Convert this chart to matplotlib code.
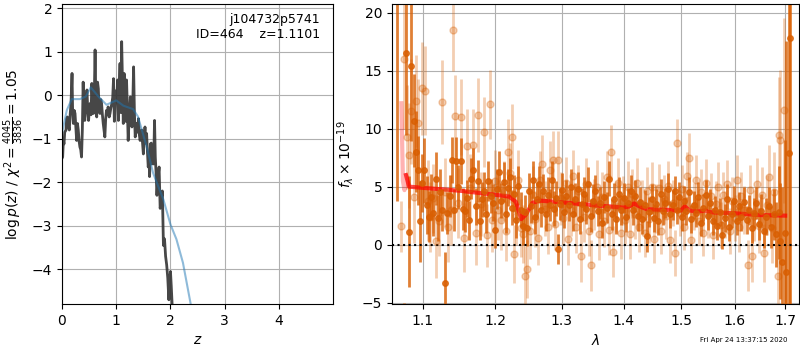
import matplotlib
matplotlib.use("Agg")
import matplotlib.pyplot as plt
from matplotlib.ticker import NullLocator

# ---- left panel: log p(z) ----
PZ_Z = [0.000, 0.012, 0.025, 0.037, 0.050, 0.074, 0.085, 0.098, 0.115, 0.135,
        0.150, 0.166, 0.185, 0.195, 0.210, 0.225, 0.240, 0.255, 0.270, 0.285,
        0.300, 0.315, 0.330, 0.345, 0.360, 0.375, 0.390, 0.405, 0.420, 0.440,
        0.460, 0.475, 0.490, 0.505, 0.520, 0.535, 0.550, 0.565, 0.580, 0.595,
        0.610, 0.625, 0.640, 0.655, 0.670, 0.685, 0.700, 0.715, 0.730, 0.745,
        0.760, 0.775, 0.790, 0.805, 0.820, 0.835, 0.850, 0.870, 0.885, 0.900,
        0.920, 0.935, 0.950, 0.965, 0.980, 0.995, 1.010, 1.025, 1.040, 1.055,
        1.070, 1.085, 1.100, 1.115, 1.130, 1.145, 1.160, 1.175, 1.190, 1.205,
        1.220, 1.240, 1.260, 1.275, 1.290, 1.305, 1.320, 1.335, 1.350, 1.365,
        1.380, 1.395, 1.410, 1.425, 1.440, 1.455, 1.470, 1.485, 1.500, 1.515,
        1.530, 1.545, 1.560, 1.575, 1.590, 1.605, 1.615, 1.630, 1.645, 1.660,
        1.675, 1.690, 1.706, 1.720, 1.735, 1.750, 1.770, 1.790, 1.810, 1.830,
        1.850, 1.870, 1.890, 1.910, 1.930, 1.950, 1.970, 1.985, 2.000, 2.015,
        2.030, 2.045]
PZ_LOGP = [-1.45, -1.42, -1.05, -1.12, -0.85, -0.80, -0.55, -0.50, -0.70, -0.80,
           -0.45, -0.19, 0.50, -0.30, -0.65, -0.35, -0.42, -0.75, -1.04, -0.65,
           -0.80, -1.05, -1.19, -1.25, -1.42, -0.80, 0.30, -0.45, -0.58, -0.20,
           0.12, -0.35, -0.58, -0.30, -0.19, -0.45, 0.27, -0.15, -0.42, -0.05,
           1.04, -0.20, -0.50, 0.30, 0.15, -0.35, -0.42, -0.10, -0.19, -0.45,
           -0.65, -0.80, -0.96, -0.55, -0.35, -0.45, -0.27, -0.50, -0.42, -0.30,
           -0.19, -0.05, 0.38, -0.60, -0.27, 0.10, -0.15, 0.35, -0.58, 0.20,
           0.73, -0.40, 1.23, 0.30, -0.65, 0.50, -0.04, -0.60, 0.35, -0.30,
           -1.04, -0.50, -0.04, -0.60, -0.73, -0.20, 0.65, -0.40, -0.96, -0.75,
           -0.65, -0.85, -0.54, -0.90, -1.04, -0.90, -0.80, -1.10, -1.35, -1.00,
           -0.73, -1.10, -0.88, -1.30, -1.65, -1.42, -1.87, -1.12, -1.10, -1.58,
           -1.20, -1.58, -0.58, -1.42, -1.80, -2.30, -1.90, -1.65, -2.60, -2.40,
           -2.20, -3.45, -3.30, -3.70, -3.90, -4.20, -4.70, -4.30, -4.05, -4.40,
           -4.80, -5.20]

PRIOR_Z = [0.00, 0.09, 0.18, 0.33, 0.44, 0.53, 0.67, 0.82, 1.00, 1.13,
           1.31, 1.40, 1.47, 1.56, 1.68, 1.87, 2.00, 2.11, 2.23, 2.37, 2.45]
PRIOR_LOGP = [-0.87, -0.34, -0.09, -0.09, -0.03, 0.18, -0.03, -0.22, -0.12, -0.24,
              -0.32, -0.49, -0.79, -1.18, -1.79, -2.40, -2.97, -3.31, -3.85, -4.78, -5.40]

Z_TICKS = [0, 1, 2, 3, 4]
LOGP_TICKS = [-4, -3, -2, -1, 0, 1, 2]

# ---- right panel: spectrum ----
G1_LAM = [1.067, 1.075, 1.078, 1.082, 1.085, 1.088, 1.091, 1.093, 1.096, 1.099,
          1.102, 1.105, 1.108, 1.111, 1.114, 1.117, 1.120, 1.123, 1.126, 1.130,
          1.133, 1.136, 1.139, 1.142, 1.145, 1.148, 1.151, 1.154, 1.157, 1.160,
          1.163, 1.166, 1.169, 1.172, 1.175, 1.178, 1.181, 1.184, 1.187, 1.190,
          1.194, 1.197, 1.200, 1.203, 1.206, 1.209, 1.212, 1.215, 1.218, 1.221,
          1.224, 1.227, 1.230, 1.234, 1.237, 1.240, 1.243, 1.246, 1.249, 1.252,
          1.255, 1.258, 1.262, 1.265, 1.268, 1.271, 1.275, 1.278, 1.281, 1.284,
          1.288, 1.291, 1.294, 1.297, 1.301, 1.304, 1.307, 1.311, 1.314, 1.318,
          1.321, 1.325, 1.328, 1.332, 1.335, 1.339, 1.342, 1.346, 1.350, 1.353,
          1.357, 1.361, 1.365, 1.368, 1.372, 1.376, 1.380, 1.384, 1.388, 1.392,
          1.396, 1.400, 1.404, 1.408, 1.412, 1.416, 1.420, 1.424, 1.428, 1.432,
          1.436, 1.440, 1.444, 1.448, 1.452, 1.456, 1.460, 1.464, 1.468, 1.472,
          1.476, 1.480, 1.485, 1.489, 1.493, 1.497, 1.501, 1.506, 1.510, 1.514,
          1.518, 1.523, 1.527, 1.531, 1.536, 1.540, 1.545, 1.549, 1.554, 1.558,
          1.563, 1.567, 1.572, 1.576, 1.581, 1.585, 1.590, 1.595, 1.599, 1.604,
          1.609, 1.613, 1.618, 1.623, 1.628, 1.633, 1.637, 1.642, 1.647, 1.652,
          1.657, 1.662, 1.667, 1.672, 1.677, 1.682, 1.687, 1.690, 1.694, 1.699,
          1.702, 1.707, 1.711]
G1_FLUX = [24.0, -8.0, 16.5, 1.1, 15.4, 10.7, 8.0, 6.4, 2.0, 5.3,
           6.4, 3.4, 2.4, 4.1, 2.7, 5.7, 2.3, 4.5, 3.0, -3.35,
           2.7, 4.2, 7.3, 3.0, 7.2, 5.0, 7.2, 3.1, 2.9, 4.0,
           2.1, 5.7, 6.4, 3.3, 5.5, 2.0, 3.9, 4.6, 2.6, 5.5,
           4.2, 3.6, 1.3, 4.8, 6.3, 3.8, 5.4, 2.6, 4.9, 5.8,
           3.2, 4.4, 2.1, 5.1, 3.0, 1.6, 2.8, 1.4, 4.6, 3.3,
           5.6, 2.4, 3.9, 5.2, 3.0, 4.6, 2.6, 4.3, 3.4, 5.6,
           3.1, 4.0, -0.4, 3.5, 4.7, 2.8, 4.2, 3.4, 5.0, 2.6,
           3.9, 4.8, 2.2, 3.5, 4.4, 3.1, 5.2, 2.5, 3.8, 4.6,
           2.9, 3.6, 1.9, 4.1, 3.2, 5.7, 2.6, 3.9, 2.2, 4.4,
           3.0, 4.0, 2.4, 3.6, 4.6, 3.0, 4.2, 2.5, 3.7, 2.2,
           3.4, 0.7, 2.8, 3.9, 2.3, 3.5, 2.0, 4.4, 2.9, 3.6,
           4.8, 2.6, 3.4, 4.6, 3.0, 4.1, 2.4, 3.8, 2.9, 4.5,
           2.2, 3.4, 2.7, 4.1, 1.9, 3.2, 4.3, 2.5, 3.6, 2.0,
           3.0, 1.6, 2.8, 0.8, 2.3, 3.9, 1.5, 2.6, 3.8, 2.0,
           3.3, 2.4, 3.7, 2.1, 3.0, 1.4, 2.7, 3.6, 1.8, 2.9,
           1.2, 2.4, 3.3, 1.5, 2.6, 0.9, 2.8, 0.3, -1.5, 1.0,
           -2.4, 7.9, 17.8]
G1_ERR = [20.2, 3.0, 7.0, 4.8, 6.5, 4.0, 3.5, 3.0, 3.5, 2.5,
          2.8, 2.5, 2.2, 2.0, 2.0, 2.3, 2.0, 2.0, 1.8, 2.7,
          1.8, 1.8, 2.0, 1.8, 2.1, 1.9, 2.0, 1.8, 1.8, 1.6,
          1.7, 1.8, 1.9, 1.6, 1.8, 1.6, 1.5, 1.7, 1.6, 1.7,
          1.5, 1.6, 1.6, 1.7, 1.8, 1.5, 1.7, 1.6, 1.6, 1.7,
          1.5, 1.6, 1.5, 1.7, 1.5, 1.6, 1.5, 1.5, 1.6, 1.4,
          1.6, 1.5, 1.5, 1.6, 1.5, 1.5, 1.4, 1.5, 1.4, 1.6,
          1.5, 1.5, 1.3, 1.4, 1.5, 1.4, 1.4, 1.4, 1.5, 1.4,
          1.4, 1.5, 1.3, 1.4, 1.4, 1.3, 1.5, 1.4, 1.4, 1.4,
          1.3, 1.4, 1.3, 1.4, 1.3, 1.5, 1.3, 1.4, 1.3, 1.4,
          1.3, 1.3, 1.3, 1.3, 1.4, 1.3, 1.4, 1.3, 1.3, 1.3,
          1.3, 1.3, 1.3, 1.3, 1.2, 1.3, 1.2, 1.3, 1.2, 1.3,
          1.4, 1.2, 1.3, 1.3, 1.2, 1.3, 1.2, 1.3, 1.2, 1.3,
          1.2, 1.2, 1.2, 1.3, 1.2, 1.2, 1.3, 1.2, 1.2, 1.2,
          1.2, 1.2, 1.2, 1.2, 1.2, 1.3, 1.2, 1.2, 1.3, 1.2,
          1.2, 1.2, 1.3, 1.2, 1.3, 1.3, 1.3, 1.4, 1.4, 1.5,
          1.5, 1.6, 1.7, 1.8, 2.2, 2.8, 4.0, 5.0, 6.5, 8.0,
          20.0, 30.0, 40.0]

G2_LAM = [1.072, 1.075, 1.079, 1.082, 1.085, 1.088, 1.091, 1.094, 1.099, 1.103,
          1.107, 1.110, 1.114, 1.118, 1.122, 1.126, 1.130, 1.134, 1.138, 1.141,
          1.144, 1.148, 1.152, 1.156, 1.160, 1.164, 1.168, 1.172, 1.176, 1.180,
          1.184, 1.188, 1.192, 1.196, 1.200, 1.204, 1.208, 1.212, 1.216, 1.219,
          1.222, 1.225, 1.227, 1.230, 1.234, 1.238, 1.241, 1.244, 1.247, 1.251,
          1.255, 1.259, 1.263, 1.267, 1.270, 1.274, 1.278, 1.282, 1.286, 1.290,
          1.294, 1.298, 1.302, 1.306, 1.310, 1.314, 1.318, 1.322, 1.326, 1.331,
          1.335, 1.339, 1.343, 1.347, 1.351, 1.356, 1.360, 1.364, 1.368, 1.372,
          1.375, 1.379, 1.383, 1.387, 1.391, 1.395, 1.399, 1.403, 1.407, 1.411,
          1.415, 1.419, 1.423, 1.427, 1.431, 1.436, 1.440, 1.444, 1.448, 1.452,
          1.456, 1.461, 1.465, 1.469, 1.473, 1.477, 1.481, 1.485, 1.489, 1.493,
          1.498, 1.502, 1.506, 1.511, 1.515, 1.519, 1.524, 1.528, 1.532, 1.537,
          1.541, 1.546, 1.550, 1.555, 1.559, 1.564, 1.568, 1.573, 1.577, 1.582,
          1.586, 1.591, 1.595, 1.600, 1.604, 1.609, 1.613, 1.618, 1.625, 1.629,
          1.634, 1.638, 1.643, 1.648, 1.653, 1.658, 1.663, 1.668, 1.673, 1.678,
          1.685, 1.688, 1.690, 1.697]
G2_FLUX = [1.6, 16.0, 9.3, 7.7, 11.5, 4.1, 12.4, 10.5, 13.5, 13.3,
           3.8, 2.4, 4.0, 0.3, 2.0, 12.3, 4.5, 1.5, 3.0, 18.5,
           11.1, 3.6, 11.0, 0.6, 8.5, 4.9, 8.6, 1.0, 11.2, 3.5,
           9.7, 0.8, 12.1, 2.1, 5.5, 3.0, 2.1, 4.6, 1.2, 8.0,
           6.2, 9.3, -0.8, 2.5, 5.6, 1.4, 0.9, -2.7, -2.1, 1.2,
           4.3, 2.2, 0.6, 5.6, 7.0, 3.1, 1.5, 6.4, 7.3, 1.8,
           7.3, 4.0, 2.3, 5.3, 0.5, 3.0, 5.9, 1.5, 4.6, -1.0,
           2.4, 5.2, 1.2, -1.8, 3.5, 5.0, 0.9, 4.1, 2.0, 5.8,
           1.3, 8.0, -0.6, 3.3, 5.3, 1.0, 3.8, 2.1, 5.0, 0.9,
           4.4, 2.6, 5.3, 1.5, 3.5, 1.0, 4.6, 2.2, 5.0, 0.5,
           3.1, 4.9, 1.2, 3.9, 2.5, 5.1, 0.4, 3.6, -0.75, 8.8,
           2.7, 4.8, 1.5, 5.9, 7.5, 0.4, 3.3, 5.6, 2.0, 4.5,
           1.0, 5.3, 2.6, 4.2, 0.8, 3.5, 5.0, 1.7, 4.3, 2.6,
           5.2, 1.2, 3.8, 2.3, 5.6, 1.5, 4.2, 3.0, -1.8, 4.7,
           -1.0, 2.5, 5.2, 1.6, 4.3, -0.7, 3.4, 5.8, 1.4, 4.5,
           -2.7, 9.5, 9.05, 11.6]
G2_ERR = [2.2, 6.0, 4.5, 4.5, 4.5, 4.0, 4.0, 3.8, 4.0, 3.8,
          3.5, 3.0, 3.0, 3.2, 3.0, 3.6, 3.0, 3.0, 3.0, 3.5,
          3.5, 3.0, 3.3, 3.0, 3.2, 2.9, 3.1, 2.8, 3.2, 2.8,
          3.0, 2.7, 3.0, 2.7, 2.7, 2.6, 2.6, 2.6, 2.6, 2.8,
          2.6, 2.8, 2.5, 2.5, 2.6, 2.5, 2.5, 2.6, 2.5, 2.4,
          2.5, 2.4, 2.4, 2.5, 2.5, 2.4, 2.3, 2.5, 2.5, 2.3,
          2.5, 2.3, 2.3, 2.3, 2.3, 2.3, 2.3, 2.2, 2.3, 2.2,
          2.2, 2.3, 2.2, 2.2, 2.2, 2.3, 2.2, 2.2, 2.2, 2.3,
          2.2, 2.3, 2.2, 2.2, 2.2, 2.2, 2.1, 2.1, 2.2, 2.1,
          2.1, 2.1, 2.2, 2.1, 2.1, 2.1, 2.1, 2.1, 2.1, 2.1,
          2.1, 2.1, 2.0, 2.1, 2.0, 2.1, 2.0, 2.0, 2.0, 2.0,
          2.0, 2.1, 2.0, 2.1, 2.1, 2.0, 2.0, 2.1, 2.0, 2.0,
          2.0, 2.1, 2.0, 2.0, 2.0, 2.0, 2.1, 2.0, 2.0, 2.0,
          2.1, 2.0, 2.0, 2.0, 2.1, 2.1, 2.1, 2.1, 2.2, 2.2,
          2.2, 2.2, 2.3, 2.3, 2.4, 2.5, 2.6, 2.8, 3.0, 3.5,
          4.0, 5.0, 6.0, 8.0]

MODEL_LAM = [1.078, 1.082, 1.100, 1.150, 1.200, 1.220, 1.230, 1.238, 1.245, 1.255,
             1.265, 1.300, 1.350, 1.400, 1.410, 1.418, 1.425, 1.440, 1.470, 1.500,
             1.507, 1.515, 1.530, 1.545, 1.550, 1.600, 1.650, 1.700]
MODEL_FLUX = [6.0, 5.0, 4.9, 4.65, 4.3, 4.15, 3.7, 2.2, 2.6, 3.6,
              3.8, 3.65, 3.4, 3.2, 3.3, 3.55, 3.35, 3.05, 3.0, 2.95,
              3.3, 2.95, 2.85, 2.95, 2.8, 2.7, 2.55, 2.5]
MODEL2_LAM = [1.072, 1.074, 1.076, 1.078, 1.080]
MODEL2_FLUX = [12.2, 5.5, 4.7, 6.0, 5.2]

LAM_TICKS = [1.1, 1.2, 1.3, 1.4, 1.5, 1.6, 1.7]
LAM_LABELS = ["1.1", "1.2", "1.3", "1.4", "1.5", "1.6", "1.7"]
FLUX_TICKS = [-5, 0, 5, 10, 15, 20]

ORANGE = "#d95f02"

fig = plt.figure(figsize=(8, 3.5), dpi=100)

# p(z) panel
ax = fig.add_axes([0.0775, 0.131, 0.339, 0.857])
ax.plot(PZ_Z, PZ_LOGP, color="0.2", lw=2, alpha=0.9)
ax.plot(PRIOR_Z, PRIOR_LOGP, color="C0", lw=1.5, alpha=0.5)
ax.set_xlim(0, 5.0)
ax.set_ylim(-4.8, 2.09)
ax.set_xticks(Z_TICKS)
ax.set_yticks(LOGP_TICKS)
ax.grid(True)
ax.set_xlabel("$z$")
ax.set_ylabel(r"$\log p(z)$ / $\chi^2=\frac{4045}{3836}=1.05$")
ax.text(0.95, 0.97, "j104732p5741\nID=464    z=1.1101",
        transform=ax.transAxes, ha="right", va="top", fontsize=9,
        multialignment="right")

# spectrum panel
bx = fig.add_axes([0.49, 0.131, 0.509, 0.857])
bx.errorbar(G2_LAM, G2_FLUX, yerr=G2_ERR, marker="o", ms=5, ls="none",
            color=ORANGE, alpha=0.3, elinewidth=2)
bx.errorbar(G1_LAM, G1_FLUX, yerr=G1_ERR, marker="o", ms=4, ls="none",
            color=ORANGE, alpha=0.8, elinewidth=2)
bx.plot(MODEL2_LAM, MODEL2_FLUX, color="r", lw=3, alpha=0.3)
bx.plot(MODEL_LAM, MODEL_FLUX, color="r", lw=3, alpha=0.7)
bx.axhline(0, color="k", ls=":", lw=1.5)
bx.set_xscale("log")
bx.set_xlim(1.06, 1.729)
bx.set_ylim(-5.14, 20.75)
bx.set_xticks(LAM_TICKS)
bx.set_xticklabels(LAM_LABELS)
bx.xaxis.set_minor_locator(NullLocator())
bx.set_yticks(FLUX_TICKS)
bx.grid(True)
bx.set_xlabel(r"$\lambda$")
bx.set_ylabel(r"$f_\lambda\times10^{-19}$")

fig.text(0.985, 0.02, "Fri Apr 24 13:37:15 2020", ha="right", va="bottom",
         fontsize=5)

fig.savefig("out.png", dpi=100)
